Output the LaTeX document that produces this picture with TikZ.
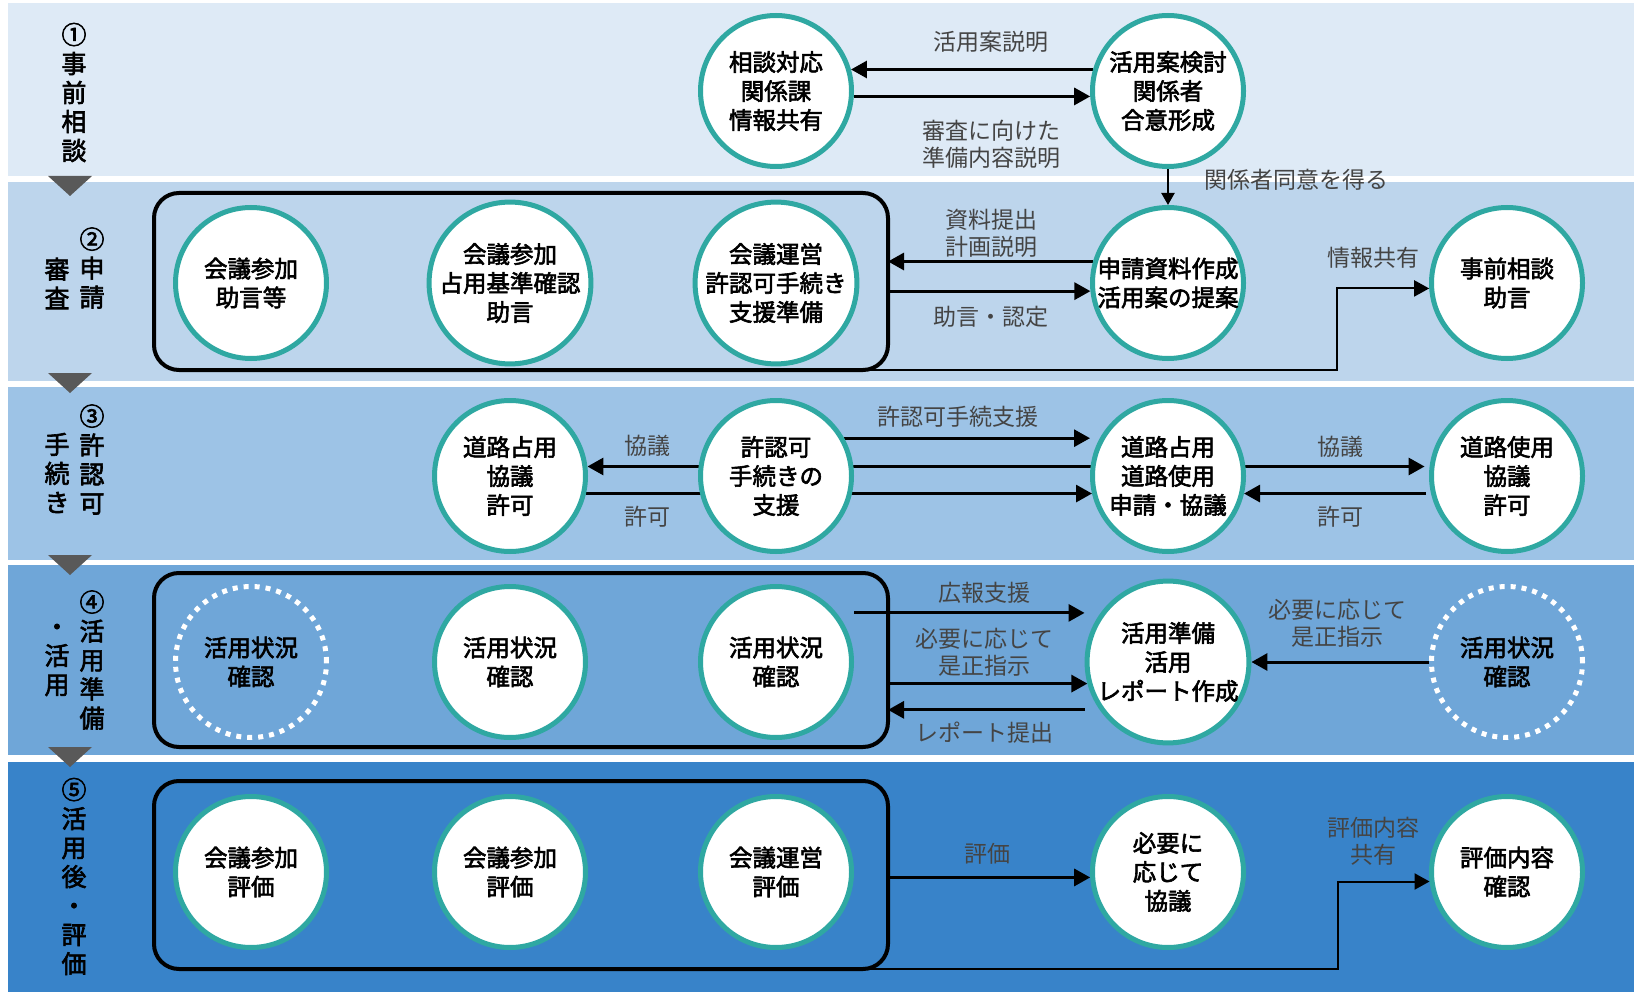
\documentclass[tikz,border=0pt]{standalone}
\usepackage{fontspec}
\newfontfamily\jp{Noto Sans CJK JP}
\newfontfamily\jpm[FakeBold=2.5]{Noto Sans CJK JP}
\usetikzlibrary{arrows.meta,calc}
\pgfdeclarelayer{bg}
\pgfdeclarelayer{mid}
\pgfsetlayers{bg,mid,main}
\definecolor{bandA}{HTML}{DEEAF6}
\definecolor{bandB}{HTML}{BDD5EC}
\definecolor{bandC}{HTML}{9DC3E6}
\definecolor{bandD}{HTML}{6FA6D8}
\definecolor{bandE}{HTML}{3883C9}
\definecolor{ringteal}{HTML}{2FA8A2}
\definecolor{trigray}{HTML}{595959}
\definecolor{labgray}{HTML}{444444}
\begin{document}
\begin{tikzpicture}[x=1pt,y=-1pt,
  circ/.style={circle, draw=ringteal, line width=5pt, fill=white, minimum size=151pt, inner sep=0pt, align=center, font=\jpm\fontsize{23.5}{29}\selectfont},
  dcirc/.style={circle, draw=white, line width=5pt, dash pattern=on 5pt off 6pt, minimum size=151pt, inner sep=0pt, align=center, font=\jpm\fontsize{23.5}{29}\selectfont},
  phase/.style={font=\jpm\fontsize{25}{29}\selectfont, align=center, inner sep=0pt},
  lab/.style={font=\jp\fontsize{23}{27}\selectfont, text=labgray, align=center, inner sep=0pt},
  box/.style={draw=black, line width=4pt, rounded corners=25pt, outer sep=0pt, inner sep=0pt, minimum width=734pt},
  arr/.style={line width=3pt, -{Triangle[length=16pt,width=17pt]}},
  arrthin/.style={line width=2pt, -{Triangle[length=15pt,width=16pt]}},
  arrdown/.style={line width=2.2pt, -{Triangle[length=12pt,width=13pt]}}
]
\useasboundingbox (0,0) rectangle (1634,995);
\begin{pgfonlayer}{bg}
  \fill[white] (0,0) rectangle (1634,995);
  \fill[bandA] (8,3) rectangle (1634,176);
  \fill[bandB] (8,182) rectangle (1634,381);
  \fill[bandC] (8,387) rectangle (1634,560);
  \fill[bandD] (8,565) rectangle (1634,755);
  \fill[bandE] (8,762) rectangle (1634,992);
  \foreach \ty in {176,373,555,747}{\fill[trigray] (48,\ty) -- (92,\ty) -- (70,\ty+20) -- cycle;}
\end{pgfonlayer}

% phase labels
\node[phase] (p1) at (74,92.5) {①\\事\\前\\相\\談};
\node[phase] (p2r) at (92,268) {②\\申\\請};
\node[phase] (p2l) at (57,283.5) {審\\査};
\node[phase] (p3r) at (92,459.5) {③\\許\\認\\可};
\node[phase] (p3l) at (57,473) {手\\続\\き};
\node[phase] (p4r) at (92,660) {④\\活\\用\\準\\備};
\node[phase] (p4l) at (57,660) {・\\活\\用};
\node[phase] (p5) at (74,876.5) {⑤\\活\\用\\後\\・\\評\\価};

% boxes
\node[box, minimum height=177pt] (bx2) at (521,281.5) {};
\node[box, minimum height=174pt] (bx4) at (521,660) {};
\node[box, minimum height=188pt] (bx5) at (521,875) {};

% row 1
\node[circ] (a11) at (776,91) {相談対応\\関係課\\情報共有};
\node[circ] (a12) at (1168,91) {活用案検討\\関係者\\合意形成};
% row 2
\node[circ] (b1) at (251,283) {会議参加\\助言等};
\node[circ] (b2) at (510,283) {会議参加\\占用基準確認\\助言};
\node[circ] (b3) at (776,283) {会議運営\\許認可手続き\\支援準備};
\node[circ] (b4) at (1168,283) {申請資料作成\\活用案の提案};
\node[circ] (b5) at (1507,283) {事前相談\\助言};
% row 3
\node[circ] (c2) at (510,476) {道路占用\\協議\\許可};
\node[circ] (c3) at (776,476) {許認可\\手続きの\\支援};
\node[circ] (c4) at (1168,476) {道路占用\\道路使用\\申請・協議};
\node[circ] (c5) at (1507,476) {道路使用\\協議\\許可};
% row 4
\node[dcirc] (d1) at (251,662) {活用状況\\確認};
\node[circ] (d2) at (510,662) {活用状況\\確認};
\node[circ] (d3) at (776,662) {活用状況\\確認};
\node[circ] (d4) at (1168,662) {活用準備\\活用\\レポート作成};
\node[dcirc] (d5) at (1507,662) {活用状況\\確認};
% row 5
\node[circ] (e1) at (251,872) {会議参加\\評価};
\node[circ] (e2) at (510,872) {会議参加\\評価};
\node[circ] (e3) at (776,872) {会議運営\\評価};
\node[circ] (e4) at (1168,872) {必要に\\応じて\\協議};
\node[circ] (e5) at (1507,872) {評価内容\\確認};

% connectors
\begin{pgfonlayer}{mid}
  \draw[arr] (a12.164) -- (a11.16);
  \draw[arr] (a11.-4) -- (a12.184);
  \draw[arrdown] (a12.south) -- (b4.north);
  \draw[arr] (b4.164) -- (bx2.east |- b4.164);
  \draw[arr] (bx2.east |- b4.186) -- (b4.186);
  \draw[arrthin] ([xshift=-30pt]bx2.south east) -| ([xshift=-92pt]b5.184) -- (b5.184);
  \draw[arr] (c3.29) -- (c4.west |- c3.29);
  \draw[arr] (c4.173) -- (c2.7);
  \draw[arr] (c2.-13) -- (c4.193);
  \draw[arr, shorten >=5pt] (c4.7) -- (c5.173);
  \draw[arr, shorten <=5pt] (c5.193) -- (c4.-13);
  \draw[arr] (d3.east |- d3.39) -- (d4.west |- d3.39);
  \draw[arr] (bx4.east |- d4.195) -- (d4.195);
  \draw[arr] (d4.west |- d4.215) -- (bx4.east |- d4.215);
  \draw[arr] (d5.west) -- (d4.east);
  \draw[arr] (bx5.east |- e4.184) -- (e4.184);
  \draw[arrthin] ([xshift=-30pt]bx5.south east) -| ([xshift=-92pt]e5.187) -- (e5.187);
\end{pgfonlayer}

% connector labels
\node[lab] (l1) at (991,42) {活用案説明};
\node[lab] (l2) at (991,144) {審査に向けた\\準備内容説明};
\node[lab] (l3) at (1296,180) {関係者同意を得る};
\node[lab] (l4) at (991,233) {資料提出\\計画説明};
\node[lab] (l5) at (991,317) {助言・認定};
\node[lab] (l6) at (1373,258) {情報共有};
\node[lab] (l7) at (958,417) {許認可手続支援};
\node[lab] (l8) at (647,446) {協議};
\node[lab] (l9) at (647,517) {許可};
\node[lab] (l10) at (1340,447) {協議};
\node[lab] (l11) at (1340,517) {許可};
\node[lab] (l12) at (984,593) {広報支援};
\node[lab] (l13) at (984,652) {必要に応じて\\是正指示};
\node[lab] (l14) at (984,733) {レポート提出};
\node[lab] (l15) at (1337,623) {必要に応じて\\是正指示};
\node[lab] (l16) at (987,854) {評価};
\node[lab] (l17) at (1373,841) {評価内容\\共有};
\end{tikzpicture}
\end{document}
